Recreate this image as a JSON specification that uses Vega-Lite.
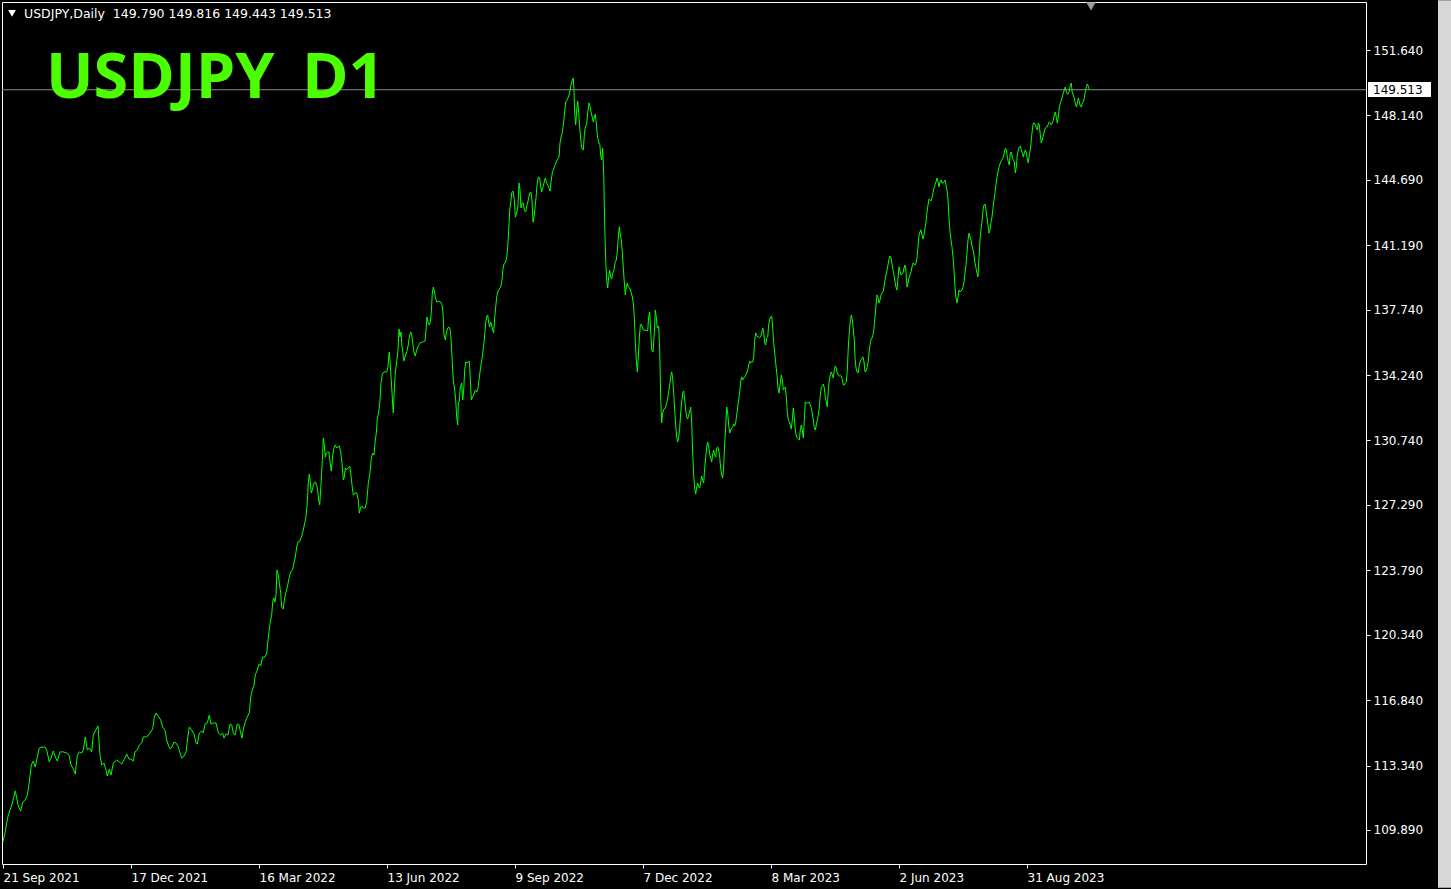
{
"$schema":"https://vega.github.io/schema/vega-lite/v6.json",
"width":1364,"height":862,
"autosize":"none",
"padding":{"left":2,"top":2,"right":85,"bottom":25},
"background":"#000000",
"config":{"view":{"stroke":"#ffffff","strokeWidth":1,"fill":"#000000"}},
"datasets":{"usdjpy":[
{"bar":0,"close":109.26},{"bar":1,"close":109.73},{"bar":1.85,"close":110.26},{"bar":2.65,"close":110.69},{"bar":3.5,"close":110.96},{"bar":4.65,"close":111.33},{"bar":5.5,"close":111.70},{"bar":6.15,"close":111.98},{"bar":6.85,"close":111.60},{"bar":7.65,"close":111.17},{"bar":8.85,"close":110.90},{"bar":9.85,"close":111.38},{"bar":11,"close":111.49},{"bar":12.15,"close":111.76},{"bar":13.15,"close":112.46},{"bar":14.15,"close":113.37},{"bar":15.15,"close":113.58},{"bar":16.15,"close":113.26},{"bar":17.15,"close":113.80},{"bar":18.15,"close":114.28},{"bar":19.35,"close":114.33},{"bar":21,"close":114.33},{"bar":21.85,"close":114.17},{"bar":23.15,"close":113.53},{"bar":24,"close":113.74},{"bar":25.15,"close":114.12},{"bar":26.15,"close":113.80},{"bar":27.15,"close":113.58},{"bar":28.5,"close":114.07},{"bar":30.15,"close":114.07},{"bar":31.85,"close":114.01},{"bar":33,"close":113.90},{"bar":34,"close":113.37},{"bar":35.15,"close":113.15},{"bar":36.15,"close":112.89},{"bar":37.15,"close":113.90},{"bar":38.15,"close":114.07},{"bar":39.35,"close":114.01},{"bar":40.15,"close":114.17},{"bar":41.15,"close":114.87},{"bar":42.15,"close":114.17},{"bar":43.15,"close":114.28},{"bar":44.35,"close":114.07},{"bar":45.15,"close":114.97},{"bar":46.35,"close":115.24},{"bar":47.5,"close":115.46},{"bar":48.5,"close":113.90},{"bar":49.35,"close":113.37},{"bar":50.5,"close":113.47},{"bar":51.5,"close":113.10},{"bar":52.15,"close":112.78},{"bar":53.15,"close":113.15},{"bar":54,"close":112.83},{"bar":55.15,"close":113.47},{"bar":56.85,"close":113.64},{"bar":58.15,"close":113.53},{"bar":59.35,"close":113.42},{"bar":60.5,"close":113.64},{"bar":61.85,"close":113.96},{"bar":63,"close":113.69},{"bar":64,"close":113.69},{"bar":65.15,"close":113.58},{"bar":66,"close":114.07},{"bar":67.15,"close":114.17},{"bar":68.15,"close":114.44},{"bar":69.35,"close":114.55},{"bar":70.15,"close":114.87},{"bar":71.85,"close":114.87},{"bar":73.5,"close":115.08},{"bar":74.85,"close":115.30},{"bar":75.65,"close":115.94},{"bar":76.5,"close":116.15},{"bar":77.65,"close":115.99},{"bar":78.85,"close":115.78},{"bar":79.85,"close":115.40},{"bar":81,"close":115.24},{"bar":81.85,"close":114.71},{"bar":82.65,"close":114.44},{"bar":83.5,"close":114.23},{"bar":84.5,"close":114.33},{"bar":85.5,"close":114.60},{"bar":86.5,"close":114.55},{"bar":87.65,"close":114.33},{"bar":88.5,"close":114.01},{"bar":89.35,"close":113.74},{"bar":90.5,"close":113.85},{"bar":91.5,"close":114.07},{"bar":92.35,"close":114.81},{"bar":93.15,"close":115.40},{"bar":94.35,"close":115.24},{"bar":95.5,"close":115.03},{"bar":96.5,"close":114.55},{"bar":97.15,"close":114.49},{"bar":98.15,"close":115.08},{"bar":99.35,"close":115.19},{"bar":100.15,"close":115.08},{"bar":101,"close":115.56},{"bar":102.15,"close":115.62},{"bar":103.15,"close":116.04},{"bar":104,"close":115.56},{"bar":105.15,"close":115.62},{"bar":106.5,"close":115.62},{"bar":107.65,"close":115.08},{"bar":108.85,"close":114.97},{"bar":109.85,"close":115.08},{"bar":110.5,"close":114.81},{"bar":111.5,"close":115.03},{"bar":112.5,"close":114.97},{"bar":113.5,"close":115.56},{"bar":114.35,"close":115.51},{"bar":115.15,"close":115.08},{"bar":116,"close":114.97},{"bar":117.15,"close":115.56},{"bar":118,"close":115.51},{"bar":118.85,"close":115.08},{"bar":119.5,"close":114.81},{"bar":120.15,"close":115.30},{"bar":121,"close":115.62},{"bar":121.85,"close":115.88},{"bar":123.15,"close":116.15},{"bar":123.85,"close":117.01},{"bar":124.65,"close":117.38},{"bar":125.5,"close":117.65},{"bar":126.15,"close":118.19},{"bar":127.15,"close":118.45},{"bar":128,"close":118.77},{"bar":128.85,"close":118.67},{"bar":129.85,"close":119.15},{"bar":131,"close":119.15},{"bar":131.85,"close":119.36},{"bar":132.35,"close":119.90},{"bar":133,"close":120.49},{"bar":133.65,"close":121.02},{"bar":134.35,"close":121.40},{"bar":134.85,"close":122.09},{"bar":135.35,"close":122.31},{"bar":136,"close":122.09},{"bar":136.5,"close":122.47},{"bar":137,"close":123.81},{"bar":137.65,"close":123.54},{"bar":138.15,"close":123.11},{"bar":138.85,"close":122.58},{"bar":139.35,"close":121.82},{"bar":140.15,"close":121.72},{"bar":140.65,"close":122.20},{"bar":141.5,"close":122.63},{"bar":142.35,"close":123.00},{"bar":143.15,"close":123.43},{"bar":143.85,"close":123.70},{"bar":144.85,"close":123.86},{"bar":145.5,"close":124.18},{"bar":146.15,"close":124.50},{"bar":146.85,"close":125.04},{"bar":147.5,"close":125.31},{"bar":148.5,"close":125.36},{"bar":149.5,"close":125.68},{"bar":150.15,"close":125.95},{"bar":150.85,"close":126.32},{"bar":151.5,"close":126.64},{"bar":152.15,"close":127.45},{"bar":152.65,"close":128.46},{"bar":153.15,"close":128.94},{"bar":153.65,"close":128.51},{"bar":154.15,"close":127.93},{"bar":154.85,"close":128.19},{"bar":155.5,"close":128.46},{"bar":156.35,"close":128.51},{"bar":157.15,"close":128.19},{"bar":157.85,"close":127.55},{"bar":158.35,"close":127.29},{"bar":158.85,"close":128.09},{"bar":159.35,"close":129.05},{"bar":159.85,"close":130.07},{"bar":160.15,"close":130.87},{"bar":160.65,"close":130.50},{"bar":161.15,"close":129.85},{"bar":161.65,"close":130.07},{"bar":162.35,"close":130.12},{"bar":163,"close":130.12},{"bar":163.5,"close":129.59},{"bar":164.15,"close":129.10},{"bar":164.85,"close":129.96},{"bar":165.5,"close":130.34},{"bar":166.15,"close":130.50},{"bar":166.85,"close":130.34},{"bar":167.5,"close":130.39},{"bar":168.15,"close":130.44},{"bar":168.85,"close":130.12},{"bar":169.5,"close":129.53},{"bar":170.15,"close":128.62},{"bar":170.65,"close":128.78},{"bar":171.15,"close":129.27},{"bar":171.85,"close":129.16},{"bar":172.65,"close":129.27},{"bar":173.35,"close":129.37},{"bar":173.85,"close":129.00},{"bar":174.5,"close":128.35},{"bar":175.15,"close":127.82},{"bar":176,"close":127.93},{"bar":176.85,"close":127.93},{"bar":177.65,"close":127.55},{"bar":178.15,"close":126.85},{"bar":178.85,"close":127.18},{"bar":179.5,"close":127.23},{"bar":180.15,"close":127.12},{"bar":181,"close":127.12},{"bar":181.85,"close":127.45},{"bar":182.65,"close":128.46},{"bar":183.5,"close":129.00},{"bar":184.15,"close":129.80},{"bar":184.85,"close":130.07},{"bar":185.5,"close":129.96},{"bar":186,"close":130.60},{"bar":186.65,"close":131.14},{"bar":187.15,"close":131.90},{"bar":188,"close":132.37},{"bar":188.5,"close":132.91},{"bar":189,"close":133.82},{"bar":189.65,"close":134.30},{"bar":190.5,"close":134.41},{"bar":191.85,"close":134.41},{"bar":192.5,"close":134.67},{"bar":192.85,"close":135.21},{"bar":193.15,"close":135.48},{"bar":193.5,"close":135.05},{"bar":194,"close":134.14},{"bar":194.5,"close":133.33},{"bar":194.85,"close":132.64},{"bar":195.15,"close":132.21},{"bar":195.65,"close":133.44},{"bar":196.15,"close":134.35},{"bar":196.85,"close":134.94},{"bar":197.5,"close":135.58},{"bar":198,"close":136.71},{"bar":198.5,"close":136.28},{"bar":199,"close":136.55},{"bar":199.5,"close":135.74},{"bar":200,"close":135.42},{"bar":200.35,"close":134.99},{"bar":201,"close":135.21},{"bar":201.85,"close":135.48},{"bar":202.65,"close":135.85},{"bar":203.15,"close":136.28},{"bar":203.85,"close":136.55},{"bar":204.35,"close":136.39},{"bar":204.85,"close":135.96},{"bar":205.5,"close":135.48},{"bar":206.15,"close":135.26},{"bar":206.85,"close":135.58},{"bar":207.65,"close":135.80},{"bar":208.5,"close":135.96},{"bar":209.85,"close":136.01},{"bar":211,"close":136.06},{"bar":211.5,"close":136.65},{"bar":212,"close":137.35},{"bar":212.5,"close":137.08},{"bar":213.15,"close":136.92},{"bar":213.65,"close":137.08},{"bar":214.15,"close":137.62},{"bar":214.65,"close":138.63},{"bar":215.15,"close":138.95},{"bar":215.65,"close":138.74},{"bar":216.15,"close":138.42},{"bar":216.85,"close":138.15},{"bar":217.65,"close":138.20},{"bar":218.85,"close":138.15},{"bar":219.5,"close":137.99},{"bar":220,"close":137.56},{"bar":220.5,"close":136.39},{"bar":221.15,"close":136.12},{"bar":221.65,"close":136.49},{"bar":222.35,"close":136.76},{"bar":223,"close":136.81},{"bar":223.65,"close":136.65},{"bar":224.15,"close":135.96},{"bar":224.65,"close":134.89},{"bar":225.15,"close":133.98},{"bar":225.85,"close":133.44},{"bar":226.35,"close":132.91},{"bar":226.85,"close":132.00},{"bar":227.35,"close":131.57},{"bar":227.65,"close":132.75},{"bar":228.15,"close":132.85},{"bar":228.65,"close":133.60},{"bar":229.35,"close":133.82},{"bar":229.85,"close":132.91},{"bar":230.35,"close":133.44},{"bar":230.85,"close":134.51},{"bar":231.35,"close":134.94},{"bar":232,"close":134.89},{"bar":232.65,"close":134.94},{"bar":233.15,"close":134.99},{"bar":233.65,"close":134.08},{"bar":234.15,"close":132.91},{"bar":234.85,"close":133.07},{"bar":235.5,"close":133.23},{"bar":236.15,"close":133.44},{"bar":236.85,"close":133.33},{"bar":237.5,"close":133.55},{"bar":238,"close":133.98},{"bar":238.5,"close":134.41},{"bar":239,"close":134.78},{"bar":239.65,"close":135.21},{"bar":240.15,"close":135.69},{"bar":240.65,"close":136.12},{"bar":241.35,"close":137.03},{"bar":241.85,"close":137.35},{"bar":242.35,"close":137.46},{"bar":242.85,"close":137.03},{"bar":243.35,"close":136.81},{"bar":243.85,"close":137.08},{"bar":244.35,"close":136.92},{"bar":244.85,"close":136.65},{"bar":245.35,"close":136.49},{"bar":245.85,"close":137.30},{"bar":246.35,"close":137.88},{"bar":246.85,"close":138.42},{"bar":247.35,"close":138.69},{"bar":248.15,"close":138.85},{"bar":248.85,"close":138.95},{"bar":249.5,"close":139.33},{"bar":250,"close":139.92},{"bar":250.5,"close":140.19},{"bar":251.15,"close":140.24},{"bar":251.85,"close":140.51},{"bar":252.35,"close":141.10},{"bar":253,"close":142.27},{"bar":253.35,"close":143.08},{"bar":253.85,"close":143.45},{"bar":254.35,"close":143.99},{"bar":255,"close":144.09},{"bar":255.65,"close":143.61},{"bar":256.15,"close":142.70},{"bar":256.85,"close":142.92},{"bar":257.5,"close":143.34},{"bar":258,"close":144.52},{"bar":258.5,"close":144.15},{"bar":259,"close":143.18},{"bar":259.5,"close":143.45},{"bar":260.15,"close":143.45},{"bar":260.65,"close":143.08},{"bar":261.35,"close":142.97},{"bar":262,"close":143.34},{"bar":262.65,"close":143.61},{"bar":263.35,"close":143.99},{"bar":264,"close":144.04},{"bar":264.5,"close":143.61},{"bar":265,"close":142.43},{"bar":265.5,"close":142.70},{"bar":266,"close":143.18},{"bar":266.5,"close":143.72},{"bar":267,"close":144.41},{"bar":267.65,"close":144.84},{"bar":268.35,"close":144.79},{"bar":268.85,"close":144.31},{"bar":269.35,"close":144.04},{"bar":270,"close":144.31},{"bar":270.65,"close":144.58},{"bar":271.15,"close":144.79},{"bar":271.65,"close":144.58},{"bar":272.35,"close":144.41},{"bar":273,"close":144.25},{"bar":273.5,"close":144.09},{"bar":274,"close":144.58},{"bar":274.65,"close":145.06},{"bar":275.35,"close":145.27},{"bar":276,"close":145.48},{"bar":276.65,"close":145.65},{"bar":277.35,"close":145.81},{"bar":278,"close":145.91},{"bar":278.5,"close":146.66},{"bar":279,"close":146.98},{"bar":279.65,"close":147.20},{"bar":280.15,"close":147.63},{"bar":280.85,"close":148.32},{"bar":281.35,"close":148.86},{"bar":282,"close":148.96},{"bar":282.65,"close":149.12},{"bar":283.35,"close":149.34},{"bar":284,"close":149.77},{"bar":284.5,"close":149.98},{"bar":285.15,"close":150.14},{"bar":285.5,"close":149.45},{"bar":285.85,"close":148.27},{"bar":286.35,"close":147.63},{"bar":286.85,"close":148.43},{"bar":287.35,"close":148.91},{"bar":287.85,"close":148.27},{"bar":288.35,"close":147.52},{"bar":289,"close":146.72},{"bar":289.5,"close":146.34},{"bar":290.15,"close":146.29},{"bar":290.65,"close":147.09},{"bar":291.15,"close":147.52},{"bar":291.85,"close":147.68},{"bar":292.35,"close":148.27},{"bar":293,"close":148.80},{"bar":293.5,"close":148.64},{"bar":294,"close":148.32},{"bar":294.65,"close":148.05},{"bar":295.15,"close":147.79},{"bar":295.65,"close":148.05},{"bar":296.15,"close":148.21},{"bar":296.65,"close":147.73},{"bar":297.15,"close":147.09},{"bar":297.85,"close":146.66},{"bar":298.35,"close":146.66},{"bar":298.85,"close":146.02},{"bar":299.35,"close":145.75},{"bar":299.85,"close":146.39},{"bar":300.35,"close":145.06},{"bar":300.85,"close":142.27},{"bar":301.35,"close":140.40},{"bar":301.85,"close":139.33},{"bar":302.35,"close":138.90},{"bar":302.85,"close":139.49},{"bar":303.35,"close":139.86},{"bar":303.85,"close":139.49},{"bar":304.35,"close":139.38},{"bar":304.85,"close":139.70},{"bar":305.5,"close":139.86},{"bar":306,"close":140.24},{"bar":306.65,"close":140.40},{"bar":307.15,"close":140.83},{"bar":307.65,"close":141.63},{"bar":308.15,"close":142.17},{"bar":308.65,"close":141.74},{"bar":309.15,"close":141.47},{"bar":309.65,"close":140.83},{"bar":310.15,"close":139.97},{"bar":310.65,"close":139.22},{"bar":311.15,"close":138.53},{"bar":311.65,"close":138.95},{"bar":312.15,"close":139.17},{"bar":312.65,"close":138.95},{"bar":313.35,"close":138.90},{"bar":314,"close":138.69},{"bar":314.65,"close":138.42},{"bar":315.15,"close":138.10},{"bar":315.65,"close":137.35},{"bar":316.15,"close":136.01},{"bar":316.65,"close":135.05},{"bar":317.15,"close":134.41},{"bar":317.65,"close":135.21},{"bar":318.15,"close":136.22},{"bar":318.65,"close":136.87},{"bar":319.15,"close":136.97},{"bar":319.65,"close":136.81},{"bar":320.15,"close":136.65},{"bar":321,"close":136.65},{"bar":322.35,"close":136.60},{"bar":322.85,"close":137.35},{"bar":323.35,"close":137.62},{"bar":323.85,"close":136.55},{"bar":324.35,"close":135.58},{"bar":325,"close":135.48},{"bar":325.65,"close":136.49},{"bar":326.15,"close":137.72},{"bar":326.65,"close":137.35},{"bar":327.15,"close":136.76},{"bar":327.85,"close":136.87},{"bar":328.35,"close":135.58},{"bar":328.85,"close":133.01},{"bar":329.35,"close":131.68},{"bar":329.85,"close":132.21},{"bar":330.5,"close":132.43},{"bar":331.15,"close":132.48},{"bar":331.85,"close":132.75},{"bar":332.35,"close":133.01},{"bar":332.85,"close":133.33},{"bar":333.35,"close":133.71},{"bar":333.85,"close":134.14},{"bar":334.35,"close":134.41},{"bar":334.85,"close":134.08},{"bar":335.35,"close":133.28},{"bar":335.85,"close":132.37},{"bar":336.35,"close":131.57},{"bar":336.85,"close":130.92},{"bar":337.35,"close":130.66},{"bar":337.85,"close":130.92},{"bar":338.35,"close":131.41},{"bar":338.85,"close":132.21},{"bar":339.35,"close":132.80},{"bar":339.85,"close":133.28},{"bar":340.35,"close":133.39},{"bar":340.85,"close":132.91},{"bar":341.35,"close":132.37},{"bar":341.85,"close":132.00},{"bar":342.35,"close":131.89},{"bar":342.85,"close":132.11},{"bar":343.35,"close":132.27},{"bar":343.85,"close":132.53},{"bar":344.35,"close":131.73},{"bar":344.85,"close":130.07},{"bar":345.35,"close":128.89},{"bar":345.85,"close":128.19},{"bar":346.35,"close":127.87},{"bar":346.85,"close":128.25},{"bar":347.35,"close":128.46},{"bar":347.85,"close":128.25},{"bar":348.35,"close":128.19},{"bar":348.85,"close":128.51},{"bar":349.35,"close":128.84},{"bar":349.85,"close":128.62},{"bar":350.35,"close":128.46},{"bar":350.85,"close":129.27},{"bar":351.35,"close":129.85},{"bar":351.85,"close":130.39},{"bar":352.35,"close":130.66},{"bar":352.85,"close":130.39},{"bar":353.35,"close":130.02},{"bar":353.85,"close":129.80},{"bar":354.35,"close":129.59},{"bar":354.85,"close":130.02},{"bar":355.35,"close":130.23},{"bar":355.85,"close":129.96},{"bar":356.35,"close":129.85},{"bar":356.85,"close":130.34},{"bar":357.35,"close":130.39},{"bar":357.85,"close":130.23},{"bar":358.35,"close":129.85},{"bar":358.85,"close":129.27},{"bar":359.35,"close":128.89},{"bar":359.85,"close":128.73},{"bar":360.35,"close":129.32},{"bar":360.85,"close":130.60},{"bar":361.35,"close":131.46},{"bar":361.85,"close":132.53},{"bar":362.35,"close":132.21},{"bar":362.85,"close":131.57},{"bar":363.35,"close":131.14},{"bar":363.85,"close":131.30},{"bar":364.35,"close":131.41},{"bar":364.85,"close":131.46},{"bar":365.35,"close":131.62},{"bar":365.85,"close":131.52},{"bar":366.35,"close":131.68},{"bar":366.85,"close":132.11},{"bar":367.35,"close":132.53},{"bar":367.85,"close":132.91},{"bar":368.35,"close":133.33},{"bar":368.85,"close":133.87},{"bar":369.35,"close":134.14},{"bar":369.85,"close":133.98},{"bar":370.35,"close":134.08},{"bar":370.85,"close":134.14},{"bar":371.35,"close":134.24},{"bar":371.85,"close":134.35},{"bar":372.35,"close":134.51},{"bar":372.85,"close":134.78},{"bar":373.35,"close":134.99},{"bar":373.85,"close":134.89},{"bar":374.35,"close":134.94},{"bar":374.85,"close":134.94},{"bar":375.35,"close":135.21},{"bar":375.85,"close":136.12},{"bar":376.35,"close":136.49},{"bar":376.85,"close":136.39},{"bar":377.35,"close":136.28},{"bar":377.85,"close":136.28},{"bar":378.35,"close":136.23},{"bar":378.85,"close":136.28},{"bar":379.35,"close":136.49},{"bar":379.85,"close":136.76},{"bar":380.35,"close":136.55},{"bar":380.85,"close":135.96},{"bar":381.35,"close":135.85},{"bar":381.85,"close":136.23},{"bar":382.35,"close":136.28},{"bar":382.85,"close":136.92},{"bar":383.35,"close":137.24},{"bar":383.85,"close":137.35},{"bar":384.35,"close":137.40},{"bar":384.85,"close":136.76},{"bar":385.35,"close":135.96},{"bar":385.85,"close":135.42},{"bar":386.35,"close":134.89},{"bar":387,"close":134.24},{"bar":387.5,"close":133.55},{"bar":388,"close":133.28},{"bar":388.65,"close":133.82},{"bar":389.15,"close":134.24},{"bar":389.65,"close":133.98},{"bar":390.15,"close":133.44},{"bar":390.65,"close":133.55},{"bar":391.15,"close":133.60},{"bar":391.65,"close":133.07},{"bar":392.15,"close":132.27},{"bar":392.65,"close":131.84},{"bar":393.15,"close":131.73},{"bar":393.65,"close":131.57},{"bar":394.15,"close":131.35},{"bar":394.65,"close":131.84},{"bar":395.15,"close":132.48},{"bar":395.65,"close":131.94},{"bar":396.15,"close":131.30},{"bar":396.65,"close":130.98},{"bar":397.15,"close":130.87},{"bar":397.65,"close":130.82},{"bar":398.15,"close":130.76},{"bar":398.65,"close":131.30},{"bar":399.15,"close":131.57},{"bar":399.65,"close":131.30},{"bar":400.15,"close":130.87},{"bar":400.65,"close":131.84},{"bar":401.15,"close":132.80},{"bar":401.65,"close":132.75},{"bar":402.15,"close":132.75},{"bar":402.65,"close":132.75},{"bar":403.15,"close":132.80},{"bar":403.65,"close":132.64},{"bar":404.15,"close":132.48},{"bar":404.65,"close":132.21},{"bar":405.15,"close":131.84},{"bar":405.65,"close":131.41},{"bar":406.15,"close":131.30},{"bar":406.65,"close":131.57},{"bar":407.15,"close":131.84},{"bar":407.65,"close":132.11},{"bar":408.15,"close":132.53},{"bar":408.65,"close":133.17},{"bar":409.15,"close":133.60},{"bar":409.65,"close":133.65},{"bar":410.15,"close":133.76},{"bar":410.65,"close":133.55},{"bar":411.15,"close":133.07},{"bar":411.65,"close":132.80},{"bar":412.15,"close":132.53},{"bar":412.65,"close":133.44},{"bar":413.15,"close":133.98},{"bar":413.65,"close":134.24},{"bar":414.15,"close":134.41},{"bar":414.65,"close":134.24},{"bar":415.15,"close":134.08},{"bar":415.65,"close":134.51},{"bar":416.15,"close":134.73},{"bar":416.65,"close":134.62},{"bar":417.15,"close":134.35},{"bar":417.65,"close":134.24},{"bar":418.15,"close":134.19},{"bar":418.65,"close":134.24},{"bar":419.15,"close":134.19},{"bar":419.65,"close":133.98},{"bar":420.15,"close":133.71},{"bar":420.65,"close":133.71},{"bar":421.15,"close":133.82},{"bar":421.65,"close":133.87},{"bar":422.15,"close":134.51},{"bar":422.65,"close":135.74},{"bar":423.15,"close":136.55},{"bar":423.65,"close":137.08},{"bar":424.15,"close":137.46},{"bar":424.65,"close":137.19},{"bar":425.15,"close":136.65},{"bar":425.65,"close":136.12},{"bar":426,"close":135.15},{"bar":426.5,"close":134.62},{"bar":427,"close":134.41},{"bar":427.5,"close":134.35},{"bar":428,"close":134.67},{"bar":428.5,"close":134.94},{"bar":429,"close":135.05},{"bar":429.5,"close":135.15},{"bar":430,"close":135.21},{"bar":430.5,"close":134.94},{"bar":431,"close":134.41},{"bar":431.5,"close":134.46},{"bar":432,"close":134.62},{"bar":432.5,"close":134.89},{"bar":433,"close":135.42},{"bar":433.5,"close":135.85},{"bar":434,"close":136.12},{"bar":434.5,"close":136.23},{"bar":435,"close":136.39},{"bar":435.5,"close":136.76},{"bar":436,"close":137.35},{"bar":436.5,"close":137.94},{"bar":437,"close":138.53},{"bar":437.5,"close":138.42},{"bar":438,"close":138.10},{"bar":438.5,"close":138.26},{"bar":439,"close":138.53},{"bar":439.5,"close":138.63},{"bar":440,"close":138.69},{"bar":440.5,"close":138.95},{"bar":441,"close":139.33},{"bar":441.5,"close":139.60},{"bar":442,"close":139.86},{"bar":442.5,"close":140.13},{"bar":443,"close":140.45},{"bar":443.5,"close":140.61},{"bar":444,"close":140.51},{"bar":444.5,"close":140.19},{"bar":445,"close":139.86},{"bar":445.5,"close":139.60},{"bar":446,"close":139.22},{"bar":446.5,"close":138.95},{"bar":447,"close":138.79},{"bar":447.5,"close":139.44},{"bar":448,"close":140.03},{"bar":448.5,"close":139.81},{"bar":449,"close":139.60},{"bar":449.5,"close":139.65},{"bar":450,"close":139.70},{"bar":450.5,"close":139.97},{"bar":451,"close":140.13},{"bar":451.5,"close":139.76},{"bar":452,"close":138.95},{"bar":452.5,"close":139.17},{"bar":453,"close":139.44},{"bar":453.5,"close":139.60},{"bar":454,"close":139.76},{"bar":454.5,"close":140.03},{"bar":455,"close":140.24},{"bar":455.5,"close":140.19},{"bar":456,"close":140.13},{"bar":456.5,"close":140.24},{"bar":457,"close":140.51},{"bar":457.5,"close":141.10},{"bar":458,"close":141.74},{"bar":458.5,"close":141.90},{"bar":459,"close":142.01},{"bar":459.5,"close":141.74},{"bar":460,"close":141.53},{"bar":460.5,"close":141.74},{"bar":461,"close":142.11},{"bar":461.5,"close":142.43},{"bar":462,"close":142.97},{"bar":462.5,"close":143.34},{"bar":463,"close":143.66},{"bar":463.5,"close":143.61},{"bar":464,"close":143.56},{"bar":464.5,"close":143.72},{"bar":465,"close":143.99},{"bar":465.5,"close":144.25},{"bar":466,"close":144.41},{"bar":466.5,"close":144.58},{"bar":467,"close":144.79},{"bar":467.5,"close":144.58},{"bar":468,"close":144.31},{"bar":468.5,"close":144.58},{"bar":469,"close":144.68},{"bar":469.5,"close":144.52},{"bar":470,"close":144.52},{"bar":470.5,"close":144.58},{"bar":471,"close":144.68},{"bar":471.5,"close":144.41},{"bar":472,"close":144.15},{"bar":472.5,"close":143.61},{"bar":473,"close":142.65},{"bar":473.5,"close":141.90},{"bar":474,"close":141.47},{"bar":474.5,"close":141.10},{"bar":475,"close":140.56},{"bar":475.5,"close":139.86},{"bar":476,"close":138.95},{"bar":476.5,"close":138.37},{"bar":477,"close":138.10},{"bar":477.5,"close":138.42},{"bar":478,"close":138.79},{"bar":478.5,"close":138.69},{"bar":479,"close":138.74},{"bar":479.5,"close":138.79},{"bar":480,"close":138.95},{"bar":480.5,"close":139.22},{"bar":481,"close":139.70},{"bar":481.5,"close":140.13},{"bar":482,"close":140.77},{"bar":482.5,"close":141.47},{"bar":483,"close":141.84},{"bar":483.5,"close":141.63},{"bar":484,"close":141.47},{"bar":484.5,"close":141.15},{"bar":485,"close":140.94},{"bar":485.5,"close":140.67},{"bar":486,"close":140.24},{"bar":486.5,"close":139.97},{"bar":487,"close":139.70},{"bar":487.5,"close":139.49},{"bar":488,"close":140.51},{"bar":488.5,"close":141.47},{"bar":489,"close":142.01},{"bar":489.5,"close":142.43},{"bar":490,"close":143.08},{"bar":490.5,"close":143.34},{"bar":491,"close":143.40},{"bar":491.5,"close":143.08},{"bar":492,"close":142.65},{"bar":492.5,"close":142.27},{"bar":493,"close":141.84},{"bar":493.5,"close":142.01},{"bar":494,"close":142.43},{"bar":494.5,"close":142.70},{"bar":495,"close":143.18},{"bar":495.5,"close":143.61},{"bar":496,"close":143.99},{"bar":496.5,"close":144.47},{"bar":497.35,"close":145.06},{"bar":498,"close":145.38},{"bar":498.65,"close":145.59},{"bar":499.35,"close":145.75},{"bar":500,"close":145.86},{"bar":500.65,"close":146.13},{"bar":501.15,"close":146.39},{"bar":501.65,"close":146.29},{"bar":502.15,"close":145.91},{"bar":502.65,"close":145.65},{"bar":503.15,"close":145.48},{"bar":503.65,"close":146.13},{"bar":504.15,"close":146.18},{"bar":504.65,"close":145.91},{"bar":505.15,"close":145.75},{"bar":505.65,"close":145.65},{"bar":506.15,"close":145.06},{"bar":506.65,"close":145.38},{"bar":507.15,"close":146.02},{"bar":507.65,"close":146.29},{"bar":508.15,"close":146.45},{"bar":508.65,"close":146.50},{"bar":509.15,"close":146.29},{"bar":509.65,"close":146.13},{"bar":510.15,"close":145.91},{"bar":510.65,"close":146.13},{"bar":511.15,"close":146.29},{"bar":511.65,"close":146.13},{"bar":512.15,"close":145.81},{"bar":512.65,"close":145.59},{"bar":513.15,"close":146.02},{"bar":513.65,"close":146.29},{"bar":514.15,"close":146.82},{"bar":514.65,"close":147.36},{"bar":515.15,"close":147.73},{"bar":515.65,"close":147.73},{"bar":516.15,"close":147.63},{"bar":516.65,"close":147.47},{"bar":517.15,"close":147.36},{"bar":517.65,"close":147.73},{"bar":518.15,"close":147.63},{"bar":518.65,"close":147.09},{"bar":519.15,"close":146.66},{"bar":519.65,"close":146.82},{"bar":520.15,"close":147.09},{"bar":520.65,"close":147.25},{"bar":521.15,"close":147.47},{"bar":521.65,"close":147.52},{"bar":522.15,"close":147.52},{"bar":522.65,"close":147.68},{"bar":523.15,"close":147.79},{"bar":523.65,"close":147.73},{"bar":524.15,"close":147.63},{"bar":524.65,"close":147.73},{"bar":525.15,"close":147.89},{"bar":525.65,"close":148.16},{"bar":526.15,"close":148.32},{"bar":526.65,"close":148.05},{"bar":527.15,"close":147.73},{"bar":527.65,"close":148.05},{"bar":528.15,"close":148.54},{"bar":528.65,"close":148.80},{"bar":529.15,"close":148.96},{"bar":529.65,"close":149.12},{"bar":530.15,"close":149.34},{"bar":530.65,"close":149.50},{"bar":531.15,"close":149.66},{"bar":531.65,"close":149.39},{"bar":532.15,"close":149.29},{"bar":532.65,"close":149.29},{"bar":533.15,"close":149.45},{"bar":533.65,"close":149.77},{"bar":534.15,"close":149.87},{"bar":534.65,"close":149.34},{"bar":535.15,"close":149.23},{"bar":535.65,"close":149.07},{"bar":536.15,"close":148.80},{"bar":536.65,"close":148.59},{"bar":537.15,"close":148.80},{"bar":537.65,"close":149.07},{"bar":538.15,"close":148.86},{"bar":538.65,"close":148.64},{"bar":539.15,"close":148.59},{"bar":539.65,"close":148.80},{"bar":540.15,"close":148.86},{"bar":540.65,"close":149.07},{"bar":541.15,"close":149.39},{"bar":541.65,"close":149.66},{"bar":542.15,"close":149.82},{"bar":542.65,"close":149.71},{"bar":543.15,"close":149.513}
],
"one":[{}]},
"layer":[
{"data":{"name":"usdjpy"},
 "mark":{"type":"line","color":"#00ff00","strokeWidth":1,"clip":true,"interpolate":"linear"},
 "encoding":{
  "x":{"field":"bar","type":"quantitative",
   "scale":{"domain":[-0.5,681.5],"nice":false,"zero":false},
   "axis":{"title":null,"orient":"bottom","values":[0,64,128,192,256,320,384,448,512],
    "labelExpr":"['21 Sep 2021','17 Dec 2021','16 Mar 2022','13 Jun 2022','9 Sep 2022','7 Dec 2022','8 Mar 2023','2 Jun 2023','31 Aug 2023'][round(datum.value/64)]",
    "labelAlign":"left","labelBaseline":"top","labelPadding":4,"labelFlush":false,"labelOverlap":false,
    "labelFont":"DejaVu Sans","labelFontSize":12,"labelColor":"#ffffff",
    "tickColor":"#ffffff","tickSize":4,"tickWidth":1,"domain":false,"grid":false}},
  "y":{"field":"close","type":"quantitative",
   "scale":{"domain":[108.07,154.21],"nice":false,"zero":false},
   "axis":{"title":null,"orient":"right","values":[151.64,148.14,144.69,141.19,137.74,134.24,130.74,127.29,123.79,120.34,116.84,113.34,109.89],
    "format":".3f","labelFont":"DejaVu Sans","labelFontSize":12,"labelColor":"#ffffff","labelPadding":3,
    "labelOverlap":false,"labelFlush":false,"labelBaseline":"middle",
    "tickColor":"#ffffff","tickSize":4,"tickWidth":1,"domain":false,"grid":false}}}},
{"data":{"name":"one"},"mark":{"type":"rule","color":"#8c8c8c","strokeWidth":1},
 "encoding":{"y":{"datum":149.513,"type":"quantitative","title":null}}},
{"data":{"name":"one"},"mark":{"type":"rect","fill":"#ffffff","clip":false},
 "encoding":{"x":{"datum":682.5,"type":"quantitative","title":null},"x2":{"datum":714},
  "y":{"datum":149.93,"type":"quantitative","title":null},"y2":{"datum":149.12}}},
{"data":{"name":"one"},"mark":{"type":"rect","fill":"#d8d8d8","clip":false},
 "encoding":{"x":{"datum":717.5,"type":"quantitative","title":null},"x2":{"datum":724.5},
  "y":{"datum":154.3,"type":"quantitative","title":null},"y2":{"datum":106.8}}},
{"data":{"name":"one"},"mark":{"type":"text","text":"149.513","color":"#000000","font":"DejaVu Sans","fontSize":12,"align":"left","baseline":"middle","clip":false},
 "encoding":{"x":{"datum":685,"type":"quantitative","title":null},"y":{"datum":149.513,"type":"quantitative","title":null}}},
{"data":{"name":"one"},"mark":{"type":"text","text":"USDJPY,Daily\u00a0\u00a0149.790 149.816 149.443 149.513","color":"#ffffff","font":"DejaVu Sans","fontSize":12.5,"align":"left","baseline":"middle","clip":false},
 "encoding":{"x":{"datum":10.5,"type":"quantitative","title":null},"y":{"datum":153.57,"type":"quantitative","title":null}}},
{"data":{"name":"one"},"mark":{"type":"point","shape":"triangle-down","filled":true,"color":"#ffffff","opacity":1,"size":60,"clip":false},
 "encoding":{"x":{"datum":4.5,"type":"quantitative","title":null},"y":{"datum":153.60,"type":"quantitative","title":null}}},
{"data":{"name":"one"},"mark":{"type":"point","shape":"triangle-down","filled":true,"color":"#9a9a9a","opacity":1,"size":90,"clip":false},
 "encoding":{"x":{"datum":544,"type":"quantitative","title":null},"y":{"datum":153.98,"type":"quantitative","title":null}}},
{"data":{"name":"one"},"mark":{"type":"text","text":"USDJPY\u2004\u200aD1","color":"#4cff00","font":"Open Sans","fontWeight":"bold","fontSize":63,"align":"left","baseline":"alphabetic","clip":false},
 "encoding":{"x":{"datum":21.5,"type":"quantitative","title":null},"y":{"datum":149.07,"type":"quantitative","title":null}}}
]
}
